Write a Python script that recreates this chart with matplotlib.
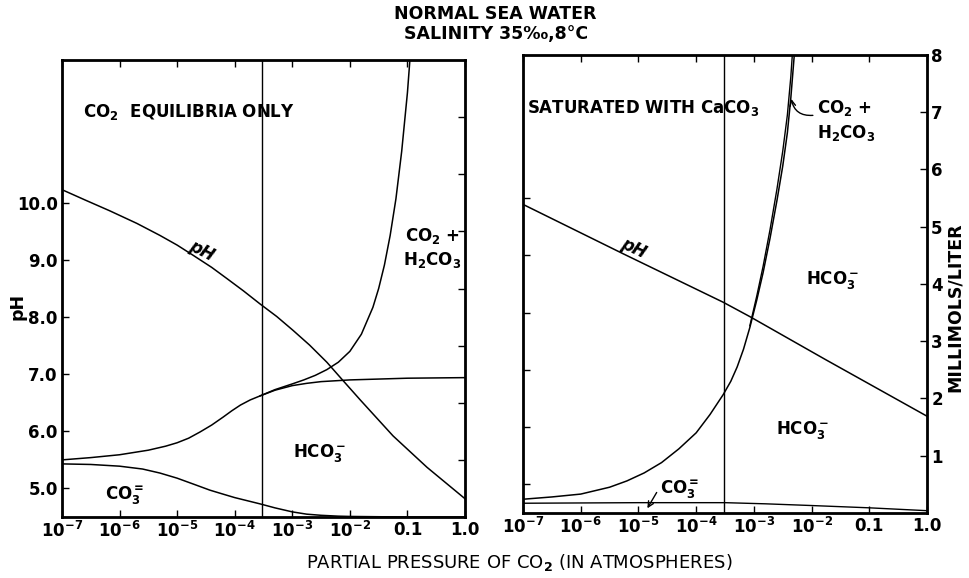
import numpy as np
import matplotlib.pyplot as plt

plt.rcParams['font.family'] = ['DejaVu Sans']
plt.rcParams['font.weight'] = 'bold'
plt.rcParams['mathtext.fontset'] = 'custom'
plt.rcParams['mathtext.rm'] = 'DejaVu Sans:bold'
plt.rcParams['mathtext.it'] = 'DejaVu Sans:bold:italic'
plt.rcParams['mathtext.default'] = 'rm'

# ===== data (log10 pCO2 in atm) =====
atm_co2 = 3e-4
x_ticks = [-7, -6, -5, -4, -3, -2, -1, 0]
x_labels = ['$10^{-7}$', '$10^{-6}$', '$10^{-5}$', '$10^{-4}$',
            '$10^{-3}$', '$10^{-2}$', '0.1', '1.0']

# left panel: CO2 equilibria only (millimols/liter, cumulative)
l_co3_x = [-7.0, -6.5, -6.0, -5.6, -5.3, -5.0, -4.7, -4.43, -4.2, -4.0, -3.8, -3.56,
           -3.3, -3.0, -2.75, -2.5, -2.2, -2.0, -1.0, 0.0]
l_co3_y = [0.93, 0.92, 0.89, 0.84, 0.77, 0.68, 0.57, 0.47, 0.40, 0.34, 0.29, 0.23,
           0.16, 0.09, 0.05, 0.03, 0.015, 0.01, 0.0, 0.0]

l_hco3_x = [-7.0, -6.5, -6.0, -5.5, -5.2, -5.0, -4.8, -4.6, -4.4, -4.2, -4.05, -3.9,
            -3.73, -3.56, -3.3, -3.0, -2.75, -2.5, -2.0, -1.0, 0.0]
l_hco3_y = [1.00, 1.04, 1.09, 1.17, 1.24, 1.30, 1.38, 1.49, 1.61, 1.75, 1.86, 1.96,
            2.05, 2.12, 2.22, 2.30, 2.34, 2.37, 2.40, 2.43, 2.44]

l_tot_x = [-3.56, -3.3, -3.0, -2.8, -2.6, -2.4, -2.2, -2.0, -1.8, -1.6, -1.5, -1.4,
           -1.3, -1.2, -1.1, -1.0, -0.95]
l_tot_y = [2.12, 2.23, 2.33, 2.40, 2.48, 2.58, 2.71, 2.90, 3.20, 3.67, 4.00, 4.41,
           4.93, 5.57, 6.40, 7.43, 8.10]

# left panel pH
l_ph_x = [-7.0, -6.6, -6.17, -5.7, -5.3, -5.0, -4.72, -4.4, -4.13, -3.85, -3.56, -3.27,
          -2.99, -2.7, -2.4, -2.12, -1.82, -1.25, -0.66, 0.0]
l_ph_y = [10.23, 10.05, 9.86, 9.64, 9.43, 9.26, 9.08, 8.87, 8.67, 8.46, 8.23, 8.01,
          7.77, 7.51, 7.21, 6.89, 6.55, 5.92, 5.37, 4.82]

# right panel: saturated with CaCO3
r_co3_x = [-7.0, -5.0, -3.5, -2.8, -2.0, -1.0, 0.0]
r_co3_y = [0.17, 0.18, 0.18, 0.16, 0.13, 0.09, 0.04]

r_hco3_x = [-7.0, -6.5, -6.0, -5.5, -5.2, -4.9, -4.6, -4.3, -4.0, -3.76, -3.53, -3.40,
            -3.29, -3.18, -3.07, -2.95, -2.84, -2.72, -2.60, -2.50, -2.42, -2.36,
            -2.30, -2.26]
r_hco3_y = [0.24, 0.28, 0.33, 0.45, 0.56, 0.70, 0.88, 1.12, 1.40, 1.72, 2.07, 2.30,
            2.55, 2.86, 3.24, 3.72, 4.20, 4.80, 5.46, 6.06, 6.64, 7.25,
            8.00, 8.60]

r_tot_x = [-3.07, -2.95, -2.84, -2.72, -2.60, -2.50, -2.42, -2.36, -2.30]
r_tot_y = [3.27, 3.79, 4.31, 4.95, 5.66, 6.32, 6.95, 7.62, 8.50]

r_ph_x = [-7.0, -5.27, -3.53, -3.07, -1.76, 0.0]
r_ph_y = [9.89, 9.03, 8.18, 7.93, 7.18, 6.19]


def p(v):
    return 10.0 ** np.array(v)


fig = plt.figure(figsize=(9.7, 5.78), dpi=100)
axL = fig.add_axes([0.0639, 0.1055, 0.4155, 0.7907])
axR = fig.add_axes([0.5392, 0.1125, 0.4165, 0.7924])

LW = 1.1
mm = {}
for ax in (axL, axR):
    ax.set_xscale('log')
    ax.set_xlim(1e-7, 1.0)
    ax.set_ylim(4.5, 12.5)
    ax.set_xticks(p(x_ticks))
    ax.set_xticklabels(x_labels)
    ax.minorticks_off()
    ax.tick_params(axis='x', which='both', direction='in', top=True, length=5,
                   width=1, pad=3, labelsize=12)
    ax.tick_params(axis='y', direction='in', length=5, width=1, pad=3, labelsize=12)
    for s in ax.spines.values():
        s.set_linewidth(2)
    ax.axvline(atm_co2, color='black', lw=1.0)
    tw = ax.twinx()
    tw.set_ylim(0, 8)
    tw.tick_params(axis='y', direction='in', length=5, width=1, pad=3, labelsize=12)
    tw.minorticks_off()
    mm[ax] = tw

# ----- left panel -----
axL.set_yticks([5, 6, 7, 8, 9, 10])
axL.set_yticklabels(['5.0', '6.0', '7.0', '8.0', '9.0', '10.0'])
tl = mm[axL]
tl.set_yticks([1, 2, 3, 4, 5, 6, 7])
tl.set_yticklabels([])

axL.plot(p(l_ph_x), l_ph_y, color='black', lw=LW)
tl.plot(p(l_co3_x), l_co3_y, color='black', lw=LW)
tl.plot(p(l_hco3_x), l_hco3_y, color='black', lw=LW)
tl.plot(p(l_tot_x), l_tot_y, color='black', lw=LW)

tl.text(10 ** -6.64, 7.09, 'CO$_2$  EQUILIBRIA ONLY', fontsize=12, ha='left', va='center')
tl.text(10 ** -4.57, 4.66, 'pH', fontsize=12, style='italic', rotation=-27,
        ha='center', va='center')
tl.text(10 ** -0.57, 4.92, 'CO$_2$ +', fontsize=12, ha='center', va='center')
tl.text(10 ** -0.57, 4.50, 'H$_2$CO$_3$', fontsize=12, ha='center', va='center')
tl.text(10 ** -2.52, 1.12, 'HCO$_3^-$', fontsize=12, ha='center', va='center')
tl.text(10 ** -5.91, 0.39, 'CO$_3^{=}$', fontsize=12, ha='center', va='center')

# ----- right panel -----
axR.set_yticks([5, 6, 7, 8, 9, 10])
axR.set_yticklabels([])
tr = mm[axR]
tr.set_yticks([1, 2, 3, 4, 5, 6, 7, 8])
tr.set_yticklabels(['1', '2', '3', '4', '5', '6', '7', '8'])

axR.plot(p(r_ph_x), r_ph_y, color='black', lw=LW)
tr.plot(p(r_co3_x), r_co3_y, color='black', lw=1.0)
tr.plot(p(r_hco3_x), r_hco3_y, color='black', lw=LW)
tr.plot(p(r_tot_x), r_tot_y, color='black', lw=1.0)

tr.text(10 ** -6.93, 7.08, 'SATURATED WITH CaCO$_3$', fontsize=12, ha='left', va='center')
tr.text(10 ** -5.09, 4.62, 'pH', fontsize=12, style='italic', rotation=-25,
        ha='center', va='center')
tr.text(10 ** -1.90, 7.08, 'CO$_2$ +', fontsize=12, ha='left', va='center')
tr.text(10 ** -1.90, 6.64, 'H$_2$CO$_3$', fontsize=12, ha='left', va='center')
tr.annotate('', xy=(10 ** -2.36, 7.28), xytext=(10 ** -1.93, 6.95),
            arrowprops=dict(arrowstyle='->', lw=1, color='black',
                            connectionstyle='arc3,rad=-0.5'))
tr.text(10 ** -1.63, 4.07, 'HCO$_3^-$', fontsize=12, ha='center', va='center')
tr.text(10 ** -2.16, 1.45, 'HCO$_3^-$', fontsize=12, ha='center', va='center')
tr.text(10 ** -4.28, 0.42, 'CO$_3^{=}$', fontsize=12, ha='center', va='center')
tr.annotate('', xy=(10 ** -4.87, 0.04), xytext=(10 ** -4.66, 0.40),
            arrowprops=dict(arrowstyle='->', lw=1, color='black'))

# ----- figure texts -----
fig.text(0.511, 0.975, 'NORMAL SEA WATER', fontsize=12.5, ha='center', va='center')
fig.text(0.511, 0.942, 'SALINITY 35\u2030,8\u00b0C', fontsize=12.5, ha='center', va='center')
fig.text(0.018, 0.469, 'pH', fontsize=12.5, rotation=90, ha='center', va='center')
fig.text(0.984, 0.469, 'MILLIMOLS/LITER', fontsize=12.5, rotation=90, ha='center', va='center')
fig.text(0.535, 0.026, 'PARTIAL PRESSURE OF CO$_2$ (IN ATMOSPHERES)', fontsize=13,
         ha='center', va='center', fontweight='normal')

plt.savefig('out.png', dpi=100)
